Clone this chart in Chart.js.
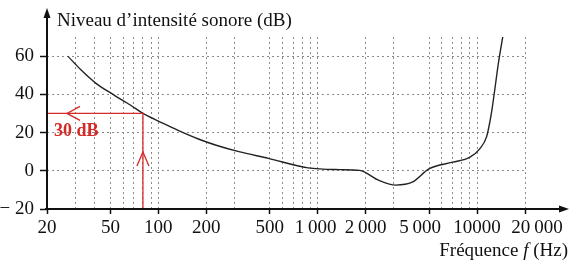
<!DOCTYPE html>
<html>
<head>
<meta charset="utf-8">
<script src="https://cdn.jsdelivr.net/npm/chart.js@4"></script>
<style>body{margin:0;background:#fff}</style>
</head>
<body>
<canvas id="c" width="584" height="272"></canvas>
<script>
// threshold of hearing
const freqs  = [27, 32.5, 41, 53, 67, 80, 103, 134, 180, 228, 320, 490, 870, 1370, 1830, 2420, 3080, 3920, 4990, 7030, 8980, 10400, 11500, 12300, 12900, 13600, 14500];
const levels = [60, 53, 45.5, 39.5, 34.3, 30, 25.5, 21, 16.5, 13.5, 10, 6.5, 1.5, 0.6, 0.2, -5, -7.5, -6, 1, 4.5, 7, 11.5, 18, 30, 42, 56, 70];

// frequency axis: where the dotted lines are, and which ones carry a label
const gridFreqs  = [20, 30, 40, 50, 60, 70, 80, 90, 100, 200, 300, 500, 600, 700, 800, 900, 1000, 2000, 3000, 5000, 6000, 7000, 8000, 9000, 10000, 20000];
const labelFreqs = [20, 50, 100, 200, 500, 1000, 2000, 5000, 10000, 20000];
const labelTexts = ["20", "50", "100", "200", "500", "1\u2009000", "2\u2009000", "5\u2009000", "10000", "20\u2009000"];

// level axis
const levelTicks = [-20, 0, 20, 40, 60];
const levelTexts = ["− 20", "0", "20", "40", "60"];

// red reading on the curve
const markFreq = 80;
const markLevel = 30;
const markText = "30 dB";

const SERIF = "'Liberation Serif', 'Times New Roman', serif";
const RED = "#d42a2a";

Chart.defaults.font.family = SERIF;
Chart.defaults.font.size = 19;
Chart.defaults.color = "#111";

// the printed labels under 5 000 and 20 000 sit a little off their ticks
const labelNudge = { 1000: -2, 5000: -9, 20000: 12 };

function arrowHead(ctx, tipX, tipY, dx, dy, len, half) {
  // filled triangle pointing along (dx, dy)
  let bx = tipX - dx * len, by = tipY - dy * len;
  ctx.beginPath();
  ctx.moveTo(tipX, tipY);
  ctx.lineTo(bx - dy * half, by + dx * half);
  ctx.lineTo(bx + dy * half, by - dx * half);
  ctx.closePath();
  ctx.fill();
}

function openArrow(ctx, x, y, dx, dy, len, half) {
  // "V" shaped arrow head with its tip at (x, y)
  let bx = x - dx * len, by = y - dy * len;
  ctx.beginPath();
  ctx.moveTo(bx - dy * half, by + dx * half);
  ctx.lineTo(x, y);
  ctx.lineTo(bx + dy * half, by - dx * half);
  ctx.stroke();
}

const extras = {
  id: "extras",
  afterDatasetsDraw(chart) {
    const ctx = chart.ctx;
    const a = chart.chartArea;
    const xs = chart.scales.x, ys = chart.scales.y;
    ctx.save();

    // red reading: 80 Hz -> 30 dB
    let px = xs.getPixelForValue(markFreq);
    let py = ys.getPixelForValue(markLevel);
    ctx.strokeStyle = RED;
    ctx.lineWidth = 1.3;
    ctx.beginPath();
    ctx.moveTo(px, a.bottom);
    ctx.lineTo(px, py);
    ctx.lineTo(a.left, py);
    ctx.stroke();
    openArrow(ctx, px, a.bottom - 57, 0, -1, 14, 6);
    openArrow(ctx, a.left + 20, py, -1, 0, 13, 7);
    ctx.fillStyle = RED;
    ctx.font = "bold 18px " + SERIF;
    ctx.textBaseline = "alphabetic";
    ctx.textAlign = "left";
    ctx.fillText(markText, a.left + 7, py + 23);

    // axes with arrows
    ctx.strokeStyle = "#111";
    ctx.fillStyle = "#111";
    ctx.lineWidth = 2;
    ctx.beginPath();
    ctx.moveTo(a.left - 2, a.bottom);
    ctx.lineTo(561, a.bottom);
    ctx.moveTo(a.left, a.bottom + 1);
    ctx.lineTo(a.left, 16);
    ctx.stroke();
    arrowHead(ctx, 569, a.bottom, 1, 0, 10, 3.5);
    arrowHead(ctx, a.left, 8, 0, -1, 10, 3.5);

    // frequency labels
    ctx.font = "19px " + SERIF;
    ctx.textAlign = "center";
    labelFreqs.forEach((f, i) => {
      let x = xs.getPixelForValue(f) + (labelNudge[f] || 0);
      ctx.fillText(labelTexts[i], x, a.bottom + 24);
    });

    // axis titles
    ctx.textAlign = "left";
    ctx.fillText("Niveau d’intensité sonore (dB)", 57, 26);

    let p1 = "Fréquence ", p3 = " (Hz)";
    let w1 = ctx.measureText(p1).width, w3 = ctx.measureText(p3).width;
    ctx.font = "italic 19px " + SERIF;
    let w2 = ctx.measureText("f").width;
    let x0 = 568 - w1 - w2 - w3;
    ctx.font = "19px " + SERIF;
    ctx.fillText(p1, x0, 256);
    ctx.fillText(p3, x0 + w1 + w2, 256);
    ctx.font = "italic 19px " + SERIF;
    ctx.fillText("f", x0 + w1, 256);
    ctx.restore();
  }
};

new Chart(document.getElementById("c"), {
  type: "line",
  data: {
    datasets: [{
      data: freqs.map((f, i) => ({ x: f, y: levels[i] })),
      borderColor: "#222",
      borderWidth: 1.4,
      pointRadius: 0,
      cubicInterpolationMode: "monotone",
      fill: false
    }]
  },
  options: {
    responsive: false,
    animation: false,
    layout: { padding: { top: 37, right: 59, left: 0, bottom: 0 } },
    plugins: { legend: { display: false }, tooltip: { enabled: false } },
    scales: {
      x: {
        type: "logarithmic",
        min: 20,
        max: 20000,
        afterBuildTicks: (scale) => {
          scale.ticks = gridFreqs.map((v) => ({ value: v }));
        },
        afterFit: (scale) => { scale.height = 63; },
        ticks: {
          autoSkip: false,
          maxRotation: 0,
          callback: () => ""
        },
        grid: {
          color: "#8a8a8a",
          lineWidth: 1,
          tickLength: 5,
          tickWidth: 1.5,
          tickColor: (c) => labelFreqs.includes(c.tick && c.tick.value) ? "#111" : "rgba(0,0,0,0)"
        },
        border: { display: false, dash: [2, 3] }
      },
      y: {
        min: -20,
        max: 70,
        afterFit: (scale) => { scale.width = 47; },
        ticks: {
          stepSize: 10,
          padding: 6,
          callback: (v) => {
            let i = levelTicks.indexOf(v);
            return i >= 0 ? levelTexts[i] : "";
          }
        },
        grid: {
          color: "#8a8a8a",
          lineWidth: 1,
          tickLength: 7,
          tickWidth: 1.5,
          tickColor: (c) => levelTicks.includes(c.tick && c.tick.value) ? "#111" : "rgba(0,0,0,0)"
        },
        border: { display: false, dash: [2, 3] }
      }
    }
  },
  plugins: [extras]
});
</script>
</body>
</html>
